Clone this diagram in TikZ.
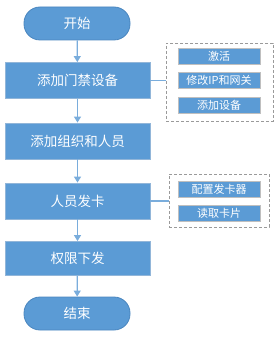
\documentclass[tikz,border=0pt]{standalone}
\usepackage{fontspec}
\newfontfamily\cjk{Noto Sans CJK SC}
\usetikzlibrary{arrows.meta}
\definecolor{fillblue}{HTML}{5B9BD5}
\definecolor{edgeblue}{HTML}{4A86BF}
\definecolor{linkblue}{HTML}{7AADDC}
\definecolor{dashgray}{HTML}{9A9A9A}
\tikzset{
  mainbox/.style={draw=edgeblue!60!white, line width=0.8pt, fill=fillblue, text=white, font=\cjk\fontsize{13.5}{15}\selectfont, minimum width=145pt, minimum height=36pt, inner sep=0pt},
  termbox/.style={mainbox, draw=edgeblue, minimum width=106pt, minimum height=33pt, rounded corners=16pt},
  subbox/.style={draw=black!25, line width=0.8pt, fill=fillblue, text=white, font=\cjk\fontsize{11}{12}\selectfont, minimum width=82pt, minimum height=16pt, inner sep=0pt},
  groupbox/.style={draw=dashgray, densely dashed, line width=0.6pt},
  flow/.style={draw=linkblue, line width=1.2pt, -{Triangle[length=6pt,width=7pt]}},
  link/.style={draw=linkblue, line width=1.2pt}
}
\begin{document}
\begin{tikzpicture}[x=1pt,y=-1pt]
\useasboundingbox (0,0) rectangle (278,339);
\node[termbox] (start) at (77,23.5) {开始};
\node[mainbox] (b1) at (77.5,80.5) {添加门禁设备};
\node[mainbox] (b2) at (77.5,141) {添加组织和人员};
\node[mainbox] (b3) at (77.5,201) {人员发卡};
\node[mainbox, minimum height=34pt] (b4) at (77.5,258.5) {权限下发};
\node[termbox] (end) at (77,313.5) {结束};
\draw[flow] (start) -- (b1);
\draw[flow] (b1) -- (b2);
\draw[flow] (b2) -- (b3);
\draw[flow] (b3) -- (b4);
\draw[flow] (b4) -- (end);
% group 1
\node[groupbox, minimum width=107pt, minimum height=78pt, inner sep=0pt] (g1) at (219.5,82) {};
\node[subbox] (s1) at (219,56) {激活};
\node[subbox] (s2) at (219,80.5) {修改IP和网关};
\node[subbox] (s3) at (219,105) {添加设备};
\draw[link] (b1.east) -- (g1.west |- b1.east);
% group 2
\node[groupbox, minimum width=100pt, minimum height=53pt, inner sep=0pt] (g2) at (219,200.5) {};
\node[subbox] (s4) at (219,189) {配置发卡器};
\node[subbox] (s5) at (219,213.5) {读取卡片};
\draw[link] (b3.east) -- (g2.west |- b3.east);
\end{tikzpicture}
\end{document}
